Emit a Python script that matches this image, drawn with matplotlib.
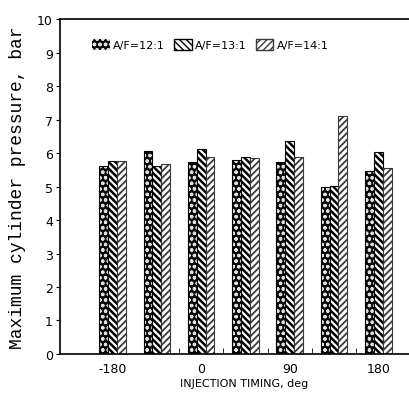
import numpy as np
import matplotlib
matplotlib.use("Agg")
import matplotlib.pyplot as plt
from matplotlib.patches import Patch

groups = [0, 1, 2, 3, 4, 5, 6]
tick_pos = [0, 2, 4, 6]
tick_labels = ["-180", "0", "90", "180"]

af12 = [5.62, 6.05, 5.72, 5.78, 5.72, 4.98, 5.45]
af13 = [5.77, 5.62, 6.12, 5.87, 6.35, 5.02, 6.02]
af14 = [5.75, 5.67, 5.89, 5.85, 5.87, 7.10, 5.55]
series_labels = ["A/F=12:1", "A/F=13:1", "A/F=14:1"]

fig = plt.figure(figsize=(4.10, 4.02), dpi=100)
ax = fig.add_axes([0.146, 0.117, 0.90, 0.833])

x = np.array(groups, dtype=float)
w = 0.2

h12 = "ooo"
h13 = "\\\\\\\\\\"
h14 = "/////"

handles = []
with plt.rc_context({"hatch.linewidth": 0.9}):
    # A/F 12:1 -> black with white dots
    ax.bar(x - w, af12, w, color="#0a0a0a", hatch=h12, edgecolor="#e0e0e0", linewidth=0)
    handles.append(Patch(facecolor="#0a0a0a", hatch=h12, edgecolor="#e0e0e0", linewidth=0))
ax.bar(x - w, af12, w, fill=False, edgecolor="black", linewidth=0.8)
with plt.rc_context({"hatch.linewidth": 1.8}):
    # A/F 13:1 -> thick back-slash
    ax.bar(x, af13, w, color="white", hatch=h13, edgecolor="black", linewidth=0.8)
    handles.append(Patch(facecolor="white", hatch=h13, edgecolor="black"))
with plt.rc_context({"hatch.linewidth": 1.3}):
    # A/F 14:1 -> lighter forward slash
    ax.bar(x + w, af14, w, color="white", hatch=h14, edgecolor="#3a3a3a", linewidth=0.8)
    handles.append(Patch(facecolor="white", hatch=h14, edgecolor="#3a3a3a"))

ax.set_xlim(-1.19, 7.14)
ax.set_ylim(0, 10)
ax.set_yticks(range(0, 11))
ax.set_xticks(tick_pos)
ax.set_xticklabels(tick_labels)
ax.set_xticks([1.5, 2.5, 3.5, 4.5, 5.5], minor=True)
ax.tick_params(axis="x", which="major", length=0, labelsize=9, pad=6)
ax.tick_params(axis="x", which="minor", length=4, direction="in")
ax.tick_params(axis="y", length=3, labelsize=9, pad=2)

ax.spines["right"].set_visible(False)
for s in ["left", "top", "bottom"]:
    ax.spines[s].set_linewidth(1.2)

ax.set_xlabel("INJECTION TIMING, deg", fontsize=8, labelpad=2)
ax.set_ylabel("Maximum cylinder pressure, bar", fontsize=13,
              family="Liberation Mono", labelpad=8)

ax.legend(handles, series_labels, ncol=3, frameon=False, loc="upper left",
          bbox_to_anchor=(0.06, 0.97), fontsize=8, handlelength=1.6,
          handleheight=1.1, handletextpad=0.3, columnspacing=0.8)

fig.savefig("out.png", dpi=100)
